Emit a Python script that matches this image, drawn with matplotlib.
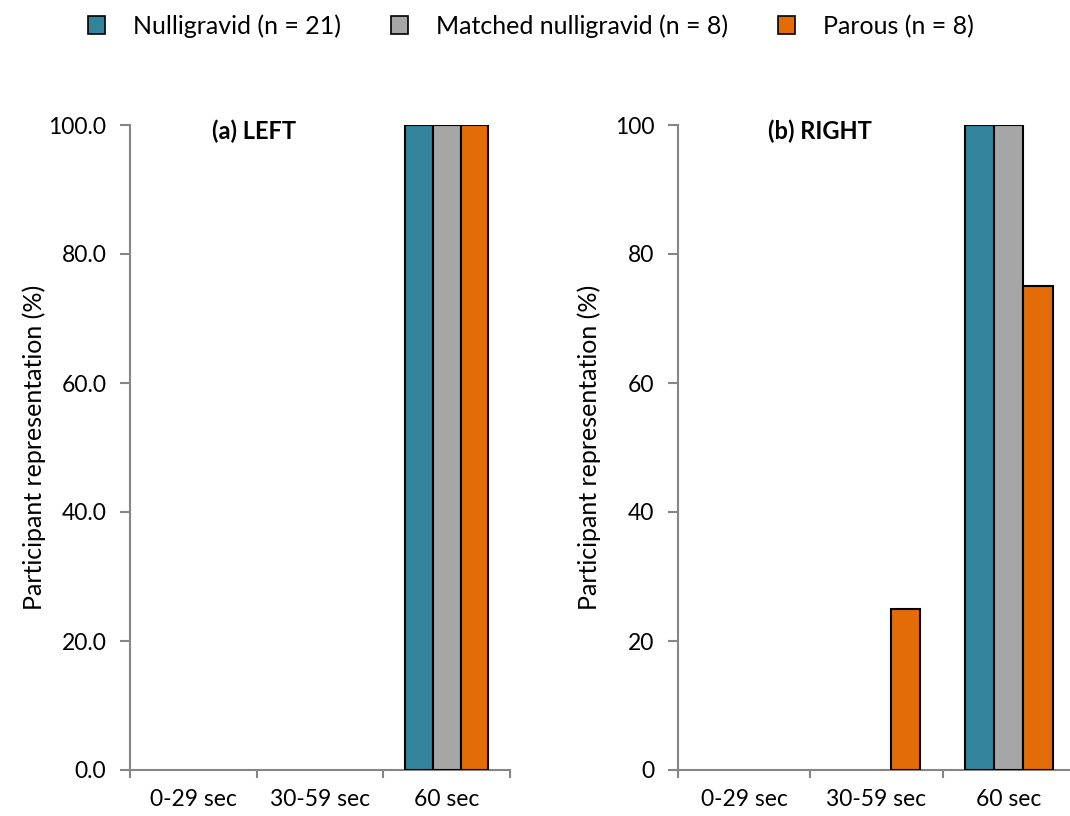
import numpy as np
import matplotlib.pyplot as plt
from matplotlib.patches import Patch

categories = ["0-29 sec", "30-59 sec", "60 sec"]
groups = ["Nulligravid (n = 21)", "Matched nulligravid (n = 8)", "Parous (n = 8)"]
colors = ["#31849B", "#A6A6A6", "#E36C09"]

# percent of participants per hold-time bin
left_vals = [
    [0, 0, 100],   # nulligravid
    [0, 0, 100],   # matched nulligravid
    [0, 0, 100],   # parous
]
right_vals = [
    [0, 0, 100],
    [0, 0, 100],
    [0, 25, 75],
]

plt.rcParams['font.family'] = ['Lato', 'DejaVu Sans']
axis_grey = "#868686"

fig = plt.figure(figsize=(10.7, 8.16), dpi=100)
ax1 = fig.add_axes([130/1070, 1-770/816, 380/1070, 645/816])
ax2 = fig.add_axes([678/1070, 1-770/816, 397/1070, 645/816])

x = np.arange(len(categories))
w = 0.22

def draw(ax, vals, title, title_x, fmt, lpad):
    for i, (v, c) in enumerate(zip(vals, colors)):
        edges = ["black" if val > 0 else "none" for val in v]
        ax.bar(x + (i - 1) * w, v, w, color=c, edgecolor=edges, linewidth=1.5, zorder=3)
    ax.set_xlim(-0.5, 2.5)
    ax.set_ylim(0, 100)
    ax.set_yticks(range(0, 101, 20))
    ax.set_yticklabels([fmt.format(t) for t in range(0, 101, 20)])
    ax.set_xticks(x)
    ax.set_xticklabels(categories)
    ax.set_xticks([-0.5, 0.5, 1.5, 2.5], minor=True)
    ax.tick_params(axis="x", which="major", length=0, pad=14, labelsize=16.5)
    ax.tick_params(axis="x", which="minor", length=6, width=1.5, color=axis_grey)
    ax.tick_params(axis="y", length=7, width=1.5, color=axis_grey, labelsize=16.5, pad=10)
    for s in ["top", "right"]:
        ax.spines[s].set_visible(False)
    for s in ["left", "bottom"]:
        ax.spines[s].set_color(axis_grey)
        ax.spines[s].set_linewidth(1.5)
    ax.set_ylabel("Participant representation (%)", fontsize=18, labelpad=lpad)
    ax.text(title_x, 0.99, title, transform=ax.transAxes, fontsize=17,
            fontweight="bold", ha="left", va="center")

draw(ax1, left_vals, "(a) LEFT", 0.216, "{:.1f}", 1.5)
draw(ax2, right_vals, "(b) RIGHT", 0.227, "{:d}", 10)

handles = [Patch(facecolor=c, edgecolor="black", linewidth=1.2) for c in colors]
fig.legend(handles, groups, loc="upper center", bbox_to_anchor=(0.496, 1.01), ncol=3,
           frameon=False, fontsize=18, handlelength=0.7, handleheight=0.7,
           handletextpad=1.1, columnspacing=2.0)

fig.savefig("out.png", dpi=100)
